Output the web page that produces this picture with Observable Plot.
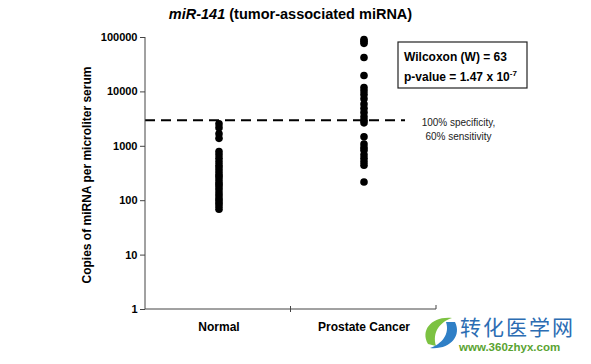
<!DOCTYPE html>
<html><head><meta charset="utf-8">
<script src="https://cdn.jsdelivr.net/npm/d3@7"></script>
<script src="https://cdn.jsdelivr.net/npm/@observablehq/plot@0.6"></script>
<style>
body{margin:0;background:#fff}
#chart svg{font-family:"Liberation Sans",Arial,sans-serif;}
</style>
</head><body><div id="chart"></div>
<script>
const groups = ["Normal", "Prostate Cancer"];
const normalValues = [2600, 2200, 1700, 1400, 800, 700, 600, 520, 450, 400, 350, 310, 280, 250, 220, 200, 180, 160, 140, 125, 110, 100, 90, 80, 70];
const cancerValues = [92000, 85000, 78000, 43000, 20000, 12000, 10500, 9000, 7500, 6000, 5000, 4200, 3500, 3000, 2700, 1500, 1100, 950, 850, 700, 600, 520, 450, 220];
const yTicks = [1, 10, 100, 1000, 10000, 100000];
const cutoff = 3000;
const cutoffLabel = "100% specificity,\n60% sensitivity";
const titleItalic = "miR-141";
const titleRest = " (tumor-associated miRNA)";
const yLabel = "Copies of miRNA per microliter serum";
const statLine1 = "Wilcoxon (W) = 63";
const statLine2 = "p-value = 1.47 x 10";
const statExp = "-7";

const rows = [
  ...normalValues.map(v => ({group: groups[0], value: v})),
  ...cancerValues.map(v => ({group: groups[1], value: v}))
];

function decor(index, scales, values, dim) {
  const g = d3.create("svg:g").attr("text-anchor", "start");
  const L = dim.marginLeft, R = dim.width - dim.marginRight;
  const T = dim.marginTop, B = dim.height - dim.marginBottom;
  const mid = (L + R) / 2;
  g.append("path").attr("d", `M${L},${T}V${B}H${R}`).attr("fill", "none").attr("stroke", "#444").attr("stroke-width", 1);
  g.append("path").attr("d", `M${mid},${B - 3}V${B + 3}M${R},${B - 4}V${B}`).attr("stroke", "#444");
  const t = g.append("text").attr("x", mid).attr("y", 14).attr("text-anchor", "middle")
    .attr("dy", "0.35em").attr("font-size", 14.5).attr("font-weight", "bold");
  t.append("tspan").attr("font-style", "italic").text(titleItalic);
  t.append("tspan").text(titleRest);
  g.append("text").attr("transform", `translate(${L - 58},${(T + B) / 2 + 2}) rotate(-90)`)
    .attr("text-anchor", "middle").attr("dy", "0.35em").attr("font-size", 12).attr("font-weight", "bold").text(yLabel);
  g.append("rect").attr("x", R - 38).attr("y", T + 5).attr("width", 129).attr("height", 46)
    .attr("fill", "#fff").attr("stroke", "#222").attr("stroke-width", 1.2);
  g.append("text").attr("x", R - 32).attr("y", T + 20).attr("dy", "0.35em")
    .attr("font-size", 12).attr("font-weight", "bold").text(statLine1);
  const s2 = g.append("text").attr("x", R - 32).attr("y", T + 40).attr("dy", "0.35em")
    .attr("font-size", 12).attr("font-weight", "bold");
  s2.append("tspan").text(statLine2);
  s2.append("tspan").attr("font-size", 8).attr("dy", "-0.6em").text(statExp);
  const w = g.append("g");
  w.append("path").attr("d", "M428,344 C420,330 432,316 452,318 C440,322 432,332 436,346 Z").attr("fill", "#7cc242");
  w.append("path").attr("d", "M455,322 C462,336 450,350 430,348 C442,344 450,334 446,322 Z").attr("fill", "#2f7fc6");
  w.append("text").attr("x", 460).attr("y", 328).attr("dy", "0.35em").attr("font-size", 21)
    .attr("font-family", "Noto Sans CJK SC").attr("fill", "#2c6db3").attr("letter-spacing", 2).text("转化医学网");
  w.append("text").attr("x", 459).attr("y", 347).attr("dy", "0.35em").attr("font-size", 11.5)
    .attr("font-weight", "bold").attr("fill", "#5aa332").text("www.360zhyx.com");
  return g.node();
}

const chart = Plot.plot({
  width: 591, height: 364,
  marginLeft: 145, marginRight: 155, marginTop: 37, marginBottom: 55,
  style: {fontFamily: '"Liberation Sans", Arial, sans-serif', background: "#fff", color: "#000"},
  x: {type: "band", domain: groups, padding: 0, label: null},
  y: {type: "log", domain: [1, 100000], label: null},
  marks: [
    Plot.axisY({ticks: yTicks, tickFormat: d => String(d), tickSize: 5, tickPadding: 3, fontSize: 11, fontWeight: "bold", label: null, stroke: "#444"}),
    Plot.axisX({tickSize: 0, tickPadding: 13, fontSize: 12, fontWeight: "bold", label: null}),
    Plot.ruleY([cutoff], {stroke: "#000", strokeWidth: 2, strokeDasharray: "10,6", insetRight: 31}),
    Plot.text([cutoff], {y: d => d, frameAnchor: "right", dx: 22, dy: 8, text: () => cutoffLabel, fontSize: 10, lineHeight: 1.4, fill: "#222", textAnchor: "middle"}),
    Plot.dot(rows, {x: "group", y: "value", r: 3.8, fill: "#000", stroke: null}),
    decor
  ]
});
document.getElementById("chart").append(chart);
</script>
</body></html>
